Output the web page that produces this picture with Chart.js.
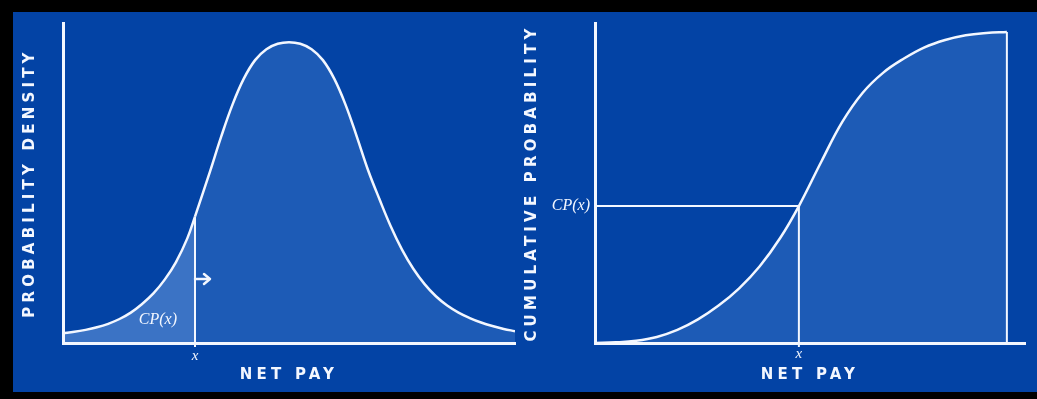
<!DOCTYPE html>
<html>
<head>
<meta charset="utf-8">
<title>Net pay distribution</title>
<script src="https://cdn.jsdelivr.net/npm/chart.js@4.4.1/dist/chart.umd.min.js"></script>
<style>
  html, body { margin: 0; padding: 0; background: #000; }
  #wrap { position: relative; width: 1037px; height: 399px; overflow: hidden; background: #000; }
  #panel { position: absolute; left: 13px; top: 12px; width: 1024px; height: 380px; background: #0343a5; }
  canvas { position: absolute; left: 0; top: 0; }
</style>
</head>
<body>
<div id="wrap">
  <div id="panel"></div>
  <canvas id="densityChart" width="1037" height="399"></canvas>
  <canvas id="cumulativeChart" width="1037" height="399"></canvas>
</div>
<script>
// left chart: probability density of net pay
const netPayDensity = [0, 2.5, 5, 7.5, 10, 12.5, 15, 17.5, 20, 22.5, 25, 27.5, 29.2, 32.5, 35, 37.5, 40, 42.5, 45, 47.5, 50,
  52.5, 55, 57.5, 60, 62.5, 65, 67.5, 70, 72.5, 75, 77.5, 80, 82.5, 85, 87.5, 90, 92.5, 95, 97.5, 100];
const densityValues = [0.031, 0.035, 0.041, 0.049, 0.06, 0.075, 0.095, 0.122, 0.155, 0.198, 0.253, 0.327, 0.395, 0.535, 0.645, 0.745, 0.826, 0.884, 0.918, 0.935, 0.94,
  0.935, 0.918, 0.884, 0.826, 0.745, 0.645, 0.54, 0.45, 0.365, 0.292, 0.232, 0.184, 0.146, 0.117, 0.095, 0.078, 0.064, 0.053, 0.044, 0.037];

// right chart: cumulative probability of net pay
const netPayCumulative = [0, 5, 10, 15, 20, 25, 30, 35, 40, 45, 49.5, 55, 60, 65, 70, 75, 80, 85, 90, 95, 100];
const cumulativeValues = [0, 0.002, 0.007, 0.019, 0.041, 0.074, 0.117, 0.171, 0.24, 0.329, 0.428, 0.568, 0.69, 0.782, 0.845, 0.889, 0.924, 0.947, 0.962, 0.969, 0.972];

// the "x" that is marked on each chart
const markDensity = 29.2;
const markCumulative = 49.5;

const xLabel = 'NET PAY';
const densityLabel = 'PROBABILITY DENSITY';
const cumulativeLabel = 'CUMULATIVE PROBABILITY';
const markLabel = 'x';
const cpLabel = 'CP(x)';

// where the small annotations sit, in data units
const cpTextPos = { x: 21, y: 0.072 };
const arrowLevel = 0.2;

const lineWhite = '#f3f7ff';
const fillBlue = '#1d5bb6';
const cpBlue = '#3b73c5';
const titleFont = { family: "'DejaVu Sans', sans-serif", size: 15, weight: 'bold' };

function toPoints(xs, ys) {
  return xs.map((x, i) => ({ x: x, y: ys[i] }));
}

function makeScales(xMax, yTitle, yWidth, yTitlePad) {
  return {
    x: {
      type: 'linear', min: 0, max: xMax,
      grid: { display: false, drawTicks: false },
      border: { display: true, color: lineWhite, width: 3, z: 1 },
      ticks: { display: false },
      title: { display: true, text: xLabel, color: lineWhite, font: titleFont, padding: 0 },
      afterFit: s => { s.height = 41; }
    },
    y: {
      type: 'linear', min: 0, max: 1,
      grid: { display: false, drawTicks: false },
      border: { display: true, color: lineWhite, width: 3, z: 1 },
      ticks: { display: false },
      title: { display: true, text: yTitle, color: lineWhite, font: titleFont, padding: { top: yTitlePad, bottom: 0 } },
      afterFit: s => { s.width = yWidth; }
    }
  };
}

// wide letter spacing for the axis titles only
const spacing = {
  id: 'spacing',
  beforeDraw(chart) { chart.ctx.letterSpacing = '4.2px'; },
  beforeDatasetsDraw(chart) { chart.ctx.letterSpacing = '0px'; }
};

function drawText(ctx, text, x, y, size, align) {
  ctx.save();
  ctx.letterSpacing = '0px';
  ctx.fillStyle = lineWhite;
  ctx.font = 'italic ' + size + "px 'Liberation Serif', serif";
  ctx.textAlign = align;
  ctx.textBaseline = 'middle';
  ctx.fillText(text, x, y);
  ctx.restore();
}

function strokeLine(ctx, x1, y1, x2, y2) {
  ctx.beginPath();
  ctx.moveTo(x1, y1);
  ctx.lineTo(x2, y2);
  ctx.stroke();
}

const densityMarks = {
  id: 'densityMarks',
  afterDraw(chart) {
    const ctx = chart.ctx;
    const xs = chart.scales.x, ys = chart.scales.y;
    const i = netPayDensity.indexOf(markDensity);
    const px = xs.getPixelForValue(markDensity);
    const py = ys.getPixelForValue(densityValues[i]);
    const base = ys.getPixelForValue(0);
    ctx.save();
    ctx.strokeStyle = lineWhite;
    ctx.lineWidth = 2;
    strokeLine(ctx, px, py, px, base + 4);
    // arrow pointing right
    const ay = ys.getPixelForValue(arrowLevel);
    ctx.lineWidth = 2.5;
    ctx.lineCap = 'round';
    ctx.lineJoin = 'round';
    strokeLine(ctx, px, ay, px + 14, ay);
    ctx.beginPath();
    ctx.moveTo(px + 9, ay - 5);
    ctx.lineTo(px + 15, ay);
    ctx.lineTo(px + 9, ay + 5);
    ctx.stroke();
    ctx.restore();
    drawText(ctx, cpLabel, xs.getPixelForValue(cpTextPos.x), ys.getPixelForValue(cpTextPos.y), 16, 'center');
    drawText(ctx, markLabel, px, base + 13, 15, 'center');
  }
};

const cumulativeMarks = {
  id: 'cumulativeMarks',
  afterDraw(chart) {
    const ctx = chart.ctx;
    const xs = chart.scales.x, ys = chart.scales.y;
    const i = netPayCumulative.indexOf(markCumulative);
    const px = xs.getPixelForValue(markCumulative);
    const py = ys.getPixelForValue(cumulativeValues[i]);
    const base = ys.getPixelForValue(0);
    const last = netPayCumulative.length - 1;
    const ex = xs.getPixelForValue(netPayCumulative[last]);
    const ey = ys.getPixelForValue(cumulativeValues[last]);
    ctx.save();
    ctx.strokeStyle = lineWhite;
    ctx.lineWidth = 2;
    strokeLine(ctx, chart.chartArea.left, py, px, py);
    strokeLine(ctx, px, py, px, base + 4);
    strokeLine(ctx, ex, ey, ex, base);
    ctx.restore();
    drawText(ctx, cpLabel, chart.chartArea.left - 5, py, 16, 'right');
    drawText(ctx, markLabel, px, base + 11, 15, 'center');
  }
};

function baseOptions(padding, scales) {
  return {
    responsive: false,
    animation: false,
    events: [],
    layout: { padding: padding },
    plugins: { legend: { display: false }, tooltip: { enabled: false } },
    scales: scales
  };
}

new Chart(document.getElementById('densityChart'), {
  type: 'line',
  data: {
    datasets: [{
      data: toPoints(netPayDensity, densityValues),
      borderColor: lineWhite,
      borderWidth: 2.5,
      pointRadius: 0,
      tension: 0.4,
      fill: 'origin',
      backgroundColor: fillBlue,
      segment: {
        backgroundColor: c => c.p1.parsed.x <= markDensity ? cpBlue : undefined
      }
    }]
  },
  options: baseOptions({ left: 0, top: 23, right: 522, bottom: 15 }, makeScales(100, densityLabel, 63, 21)),
  plugins: [spacing, densityMarks]
});

new Chart(document.getElementById('cumulativeChart'), {
  type: 'line',
  data: {
    datasets: [{
      data: toPoints(netPayCumulative, cumulativeValues),
      borderColor: lineWhite,
      borderWidth: 2.5,
      pointRadius: 0,
      tension: 0.4,
      fill: 'origin',
      backgroundColor: fillBlue
    }]
  },
  options: baseOptions({ left: 500, top: 23, right: 12, bottom: 15 }, makeScales(104.4, cumulativeLabel, 95, 23)),
  plugins: [spacing, cumulativeMarks]
});
</script>
</body>
</html>
